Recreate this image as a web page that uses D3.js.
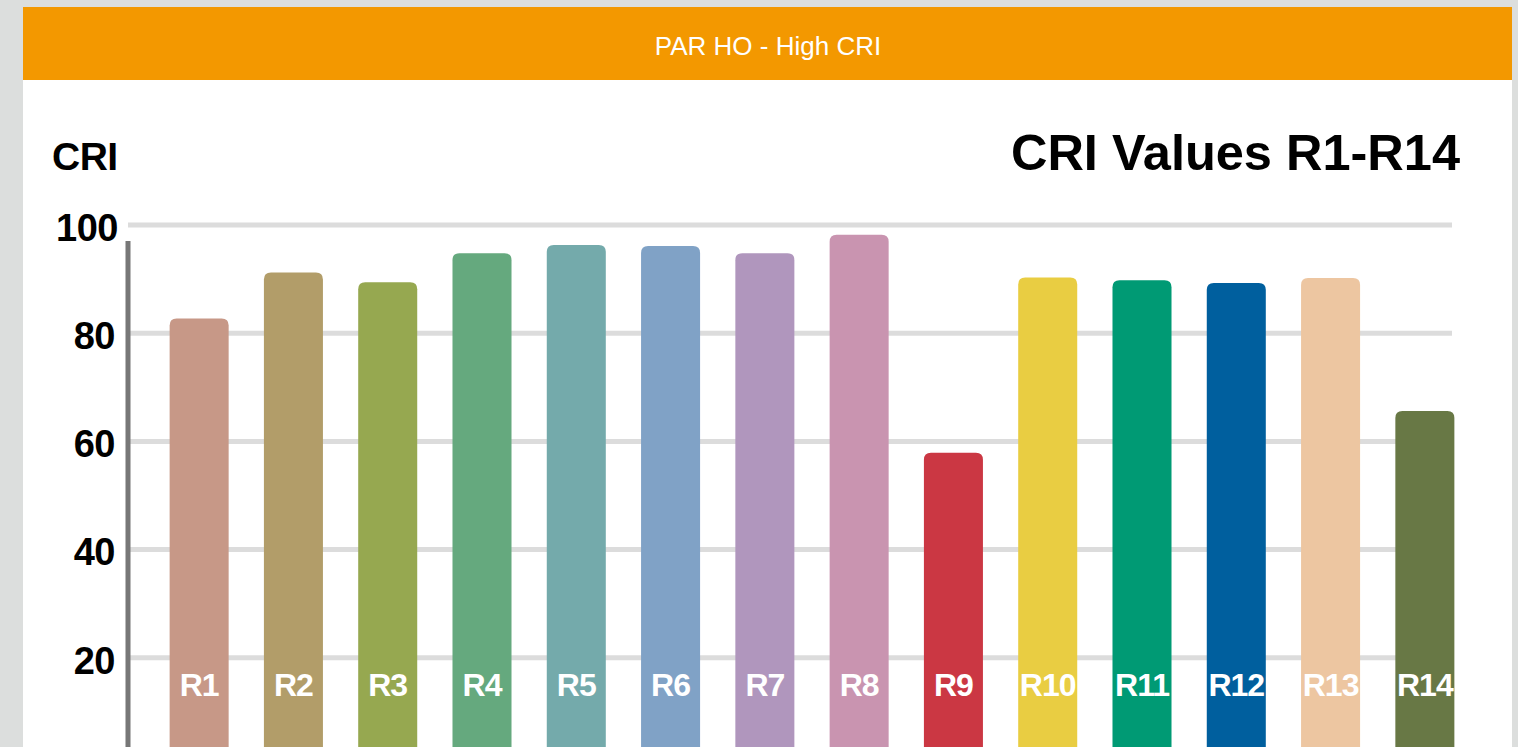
<!DOCTYPE html>
<html>
<head>
<meta charset="utf-8">
<script src="https://cdn.jsdelivr.net/npm/d3@7"></script>
<style>
  html, body { margin: 0; padding: 0; background: #dcdedd; overflow: hidden; }
  svg { display: block; font-family: "Liberation Sans", Arial, Helvetica, sans-serif; }
</style>
</head>
<body>
<svg id="chart" width="1518" height="747"></svg>
<script>
const categories = ['R1','R2','R3','R4','R5','R6','R7','R8','R9','R10','R11','R12','R13','R14']
const values = [82.7, 91.2, 89.4, 94.8, 96.3, 96.1, 94.8, 98.2, 57.9, 90.3, 89.8, 89.3, 90.2, 65.6]
const colors = ['#c79887','#b29d69','#96a850','#65a97e','#74aaab','#80a2c6','#b096bd',
                '#c994b0','#cb3743','#e9cd42','#009a74','#005f9e','#edc6a1','#687845']
const yTicks = [20, 40, 60, 80, 100]

const svg = d3.select('#chart')

// card + header
svg.append('rect')
  .attr('x', 23).attr('y', 7).attr('width', 1489).attr('height', 760)
  .attr('fill', '#fff')
svg.append('rect')
  .attr('x', 23).attr('y', 7).attr('width', 1489).attr('height', 73)
  .attr('fill', '#f39800')
svg.append('text')
  .attr('x', 768).attr('y', 55)
  .attr('text-anchor', 'middle')
  .attr('fill', '#fff')
  .style('font-size', '26px')
  .text('PAR HO - High CRI')

svg.append('text')
  .attr('x', 52).attr('y', 170)
  .style('font-size', '39px').style('font-weight', 'bold')
  .style('letter-spacing', '-0.5px')
  .text('CRI')
svg.append('text')
  .attr('x', 1460).attr('y', 170)
  .attr('text-anchor', 'end')
  .style('font-size', '50.5px').style('font-weight', 'bold')
  .text('CRI Values R1-R14')

const x = d3.scaleBand()
  .domain(categories)
  .range([152, 1472])
  .paddingInner(0.374)
  .paddingOuter(0.187)

const y = d3.scaleLinear()
  .domain([0, 100])
  .range([766, 225])

// grid
svg.append('g')
  .selectAll('line')
  .data(yTicks)
  .enter()
  .append('line')
  .attr('x1', 128).attr('x2', 1452)
  .attr('y1', d => y(d)).attr('y2', d => y(d))
  .attr('stroke', '#dcdcdc')
  .attr('stroke-width', 5)

// y axis labels
const yAxis = svg.append('g')
  .attr('transform', 'translate(116,0)')
  .call(d3.axisLeft(y).tickValues(yTicks).tickSize(0).tickPadding(0))
yAxis.select('.domain').remove()
yAxis.selectAll('text')
  .attr('dy', '0.4em')
  .attr('dx', d => d === 100 ? 2 : -1)
  .style('font-family', '"Liberation Sans", Arial, sans-serif')
  .style('font-size', '38px')
  .style('font-weight', 'bold')
  .style('letter-spacing', '-0.5px')
  .attr('fill', '#000')

svg.append('line')
  .attr('x1', 128).attr('x2', 128)
  .attr('y1', 241).attr('y2', 747)
  .attr('stroke', '#777')
  .attr('stroke-width', 5)

const r = 7
function barPath(d, i) {
  const x0 = x(categories[i])
  const w = x.bandwidth()
  const top = y(d)
  const bottom = y(0)
  return `M${x0},${bottom}V${top + r}Q${x0},${top} ${x0 + r},${top}H${x0 + w - r}Q${x0 + w},${top} ${x0 + w},${top + r}V${bottom}Z`
}

svg.append('g')
  .selectAll('path')
  .data(values)
  .enter()
  .append('path')
  .attr('d', barPath)
  .attr('fill', (d, i) => colors[i])

svg.append('g')
  .selectAll('text')
  .data(categories)
  .enter()
  .append('text')
  .attr('x', d => x(d) + x.bandwidth() / 2)
  .attr('y', 696)
  .attr('text-anchor', 'middle')
  .attr('fill', '#fff')
  .style('font-size', '32px')
  .style('font-weight', 'bold')
  .style('letter-spacing', '-1px')
  .text(d => d)
</script>
</body>
</html>
